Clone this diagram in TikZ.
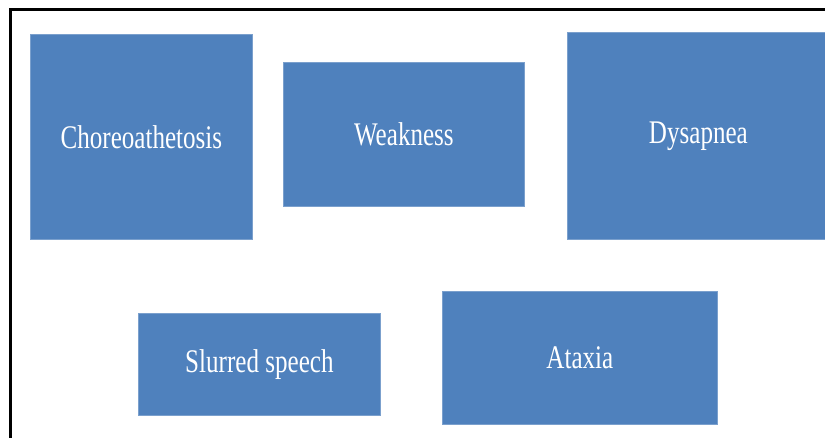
\documentclass[tikz,border=0pt]{standalone}
\usepackage{fontspec}
\usepackage{xcolor}
\newfontfamily\symptomfont[FakeStretch=0.76]{Liberation Serif}
\definecolor{symptomblue}{HTML}{4F81BD}

\begin{document}
\begin{tikzpicture}[x=1pt,y=-1pt,
    symptom/.style={fill=symptomblue, draw=symptomblue!75!white, line width=0.8pt,
        text=white, font=\symptomfont\fontsize{33}{36}\selectfont,
        inner sep=0pt, anchor=north west}]
    \useasboundingbox (0,0) rectangle (825,438);
    % frame
    \draw[line width=3pt] (10,438) -- (10,10) -- (825,10);

    % top row
    \node[symptom, minimum width=222pt, minimum height=205pt] (chorea) at (30,34) {Choreoathetosis};
    \node[symptom, minimum width=241pt, minimum height=144pt] (weak) at (283,62) {Weakness};
    \node[symptom, minimum width=262pt, minimum height=207pt] (dysp) at (567,32) {Dysapnea};

    % bottom row
    \node[symptom, minimum width=242pt, minimum height=102pt] (slur) at (138,313) {Slurred speech};
    \node[symptom, minimum width=275pt, minimum height=133pt] (atax) at (442,291) {Ataxia};

\end{tikzpicture}
\end{document}
